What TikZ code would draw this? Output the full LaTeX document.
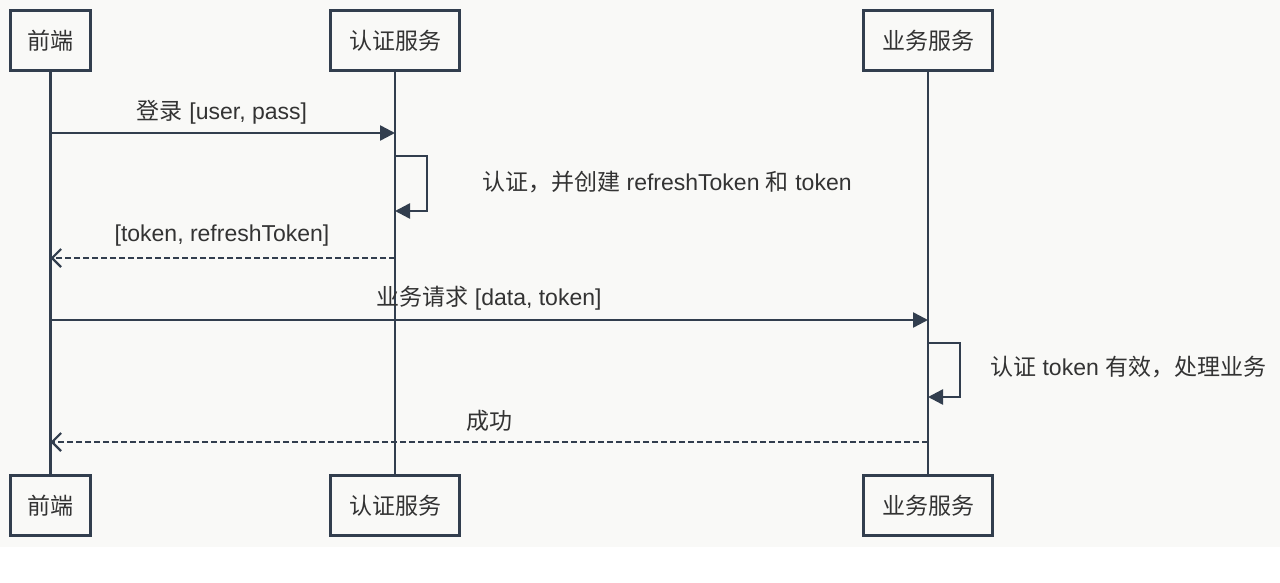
\documentclass[tikz,border=0pt]{standalone}
\usepackage{fontspec}
\setmainfont{Liberation Sans}
\newfontfamily\cjk{Noto Sans CJK SC}
\usetikzlibrary{arrows.meta}
\definecolor{ln}{RGB}{50,62,78}
\definecolor{bg}{RGB}{249,249,247}
\definecolor{tx}{RGB}{51,51,51}
\begin{document}
\begin{tikzpicture}[x=1pt,y=-1pt,
  font=\fontsize{23}{27}\selectfont,
  actor/.style={draw=ln, line width=3pt, fill=bg, minimum height=60pt, inner sep=0pt, text=tx},
  life/.style={draw=ln, line width=2.5pt},
  msg/.style={draw=ln, line width=2.5pt, -{Triangle[length=15pt,width=15pt]}},
  ret/.style={draw=ln, line width=2.2pt, dash pattern=on 6pt off 3pt, -{Straight Barb[length=9pt,width=18pt,line width=2.2pt]}},
  lbl/.style={text=tx, inner sep=0pt}
]
\useasboundingbox (0,0) rectangle (1280,583);
\fill[bg] (0,0) rectangle (1280,547);

% actors
\node[actor, minimum width=80pt]  (feT) at (50.5,40.5)  {\cjk 前端};
\node[actor, minimum width=129pt] (auT) at (395,40.5)   {\cjk 认证服务};
\node[actor, minimum width=129pt] (bzT) at (928,40.5)   {\cjk 业务服务};
\node[actor, minimum width=80pt]  (feB) at (50.5,505.5) {\cjk 前端};
\node[actor, minimum width=129pt] (auB) at (395,505.5)  {\cjk 认证服务};
\node[actor, minimum width=129pt] (bzB) at (928,505.5)  {\cjk 业务服务};

% lifelines
\draw[life] (feT.south) -- (feB.north);
\draw[life] (auT.south) -- (auB.north);
\draw[life] (bzT.south) -- (bzB.north);

% y levels
\coordinate (r1) at (0,133);
\coordinate (s1a) at (0,156);
\coordinate (s1b) at (0,211);
\coordinate (r2) at (0,258);
\coordinate (r3) at (0,320);
\coordinate (s2a) at (0,343);
\coordinate (s2b) at (0,397);
\coordinate (r4) at (0,442);

% messages
\draw[msg] (feT |- r1) -- (auT |- r1);
\node[lbl] (l1) at (222,112) {{\cjk 登录} [user, pass]};

\draw[msg] (auT |- s1a) -- ++(32,0) |- (auT |- s1b);
\node[lbl, anchor=west] (l2) at (482,182) {{\cjk 认证，并创建} refreshToken {\cjk 和} token};

\draw[ret] (auT |- r2) -- (feT |- r2);
\node[lbl] (l3) at (222,236) {[token, refreshToken]};

\draw[msg] (feT |- r3) -- (bzT |- r3);
\node[lbl] (l4) at (489,298) {{\cjk 业务请求} [data, token]};

\draw[msg] (bzT |- s2a) -- ++(32,0) |- (bzT |- s2b);
\node[lbl, anchor=west] (l5) at (990,367) {{\cjk 认证} token {\cjk 有效，处理业务}};

\draw[ret] (bzT |- r4) -- (feT |- r4);
\node[lbl] (l6) at (489,421) {\cjk 成功};
\end{tikzpicture}
\end{document}
